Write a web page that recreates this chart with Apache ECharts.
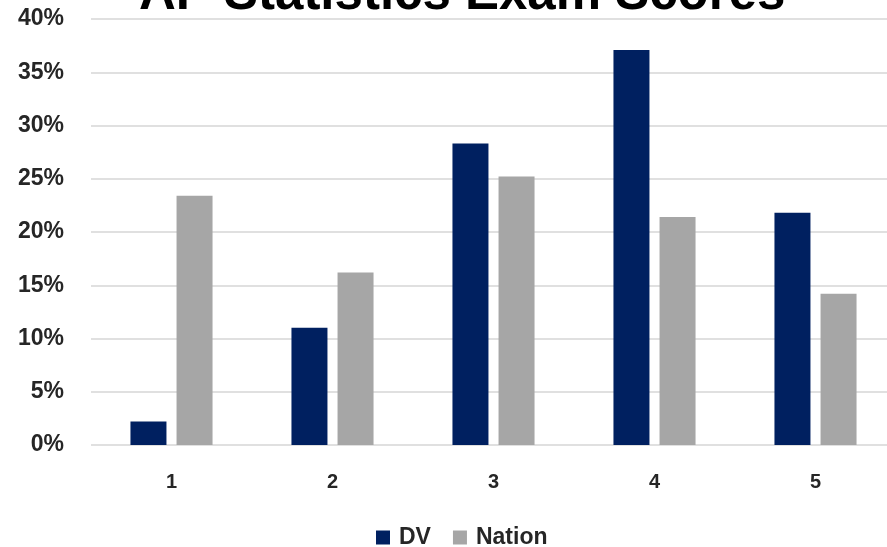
<!DOCTYPE html>
<html>
<head>
<meta charset="utf-8">
<script src="https://cdn.jsdelivr.net/npm/echarts@6/dist/echarts.min.js"></script>
<style>html,body{margin:0;padding:0;background:#fff;overflow:hidden}#c{width:896px;height:547px}</style>
</head>
<body>
<div id="c"></div>
<script>
const categories = ['1', '2', '3', '4', '5'];
const dvValues = [2.2, 11.0, 28.3, 37.1, 21.8];
const nationValues = [23.4, 16.2, 25.2, 21.4, 14.2];
const yTicks = [0, 5, 10, 15, 20, 25, 30, 35, 40];
const titleText = 'AP Statistics Exam Scores';

const chart = echarts.init(document.getElementById('c'));
const font = 'Liberation Sans, Arial, sans-serif';
chart.setOption({
  animation: false,
  title: {
    text: titleText,
    left: 134,
    top: -36,
    textStyle: { fontFamily: font, fontSize: 51, fontWeight: 'bold', color: '#000' }
  },
  legend: {
    data: ['DV', 'Nation'],
    top: 521,
    left: 371,
    itemWidth: 14,
    itemHeight: 14,
    itemGap: 22,
    icon: 'rect',
    textStyle: { fontFamily: font, fontSize: 23, fontWeight: 'bold', color: '#262626', padding: [0, 0, 0, 4] }
  },
  grid: { left: 91, right: 0, top: 19, bottom: 102, containLabel: false },
  xAxis: {
    type: 'category',
    data: categories,
    axisLine: { show: false },
    axisTick: { show: false },
    axisLabel: { margin: 27, fontFamily: font, fontSize: 20, fontWeight: 'bold', color: '#262626' }
  },
  yAxis: {
    type: 'value',
    min: yTicks[0],
    max: yTicks[yTicks.length - 1],
    interval: 5,
    axisLine: { show: false },
    axisTick: { show: false },
    splitLine: { lineStyle: { color: '#e0e0e0', width: 2 } },
    axisLabel: { margin: 27, formatter: '{value}%', fontFamily: font, fontSize: 23, fontWeight: 'bold', color: '#262626' }
  },
  series: [
    { name: 'DV', type: 'bar', data: dvValues, barWidth: 36, barGap: '28%', itemStyle: { color: '#002060' } },
    { name: 'Nation', type: 'bar', data: nationValues, barWidth: 36, itemStyle: { color: '#a6a6a6' } }
  ]
});
</script>
</body>
</html>
